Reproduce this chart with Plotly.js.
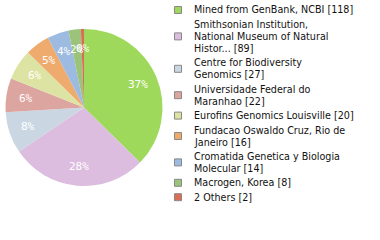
<!DOCTYPE html>
<html>
<head>
<meta charset="utf-8">
<script src="https://cdn.plot.ly/plotly-3.0.1.min.js"></script>
<style>html,body{margin:0;padding:0;background:#fff;}#chart{width:380px;height:240px;}</style>
</head>
<body>
<div id="chart"></div>
<script>
const categories = [
  'Mined from GenBank, NCBI [118]',
  'Smithsonian Institution,<br>National Museum of Natural<br>Histor... [89]',
  'Centre for Biodiversity<br>Genomics [27]',
  'Universidade Federal do<br>Maranhao [22]',
  'Eurofins Genomics Louisville [20]',
  'Fundacao Oswaldo Cruz, Rio de<br>Janeiro [16]',
  'Cromatida Genetica y Biologia<br>Molecular [14]',
  'Macrogen, Korea [8]',
  '2 Others [2]'
];
const values = [118, 89, 27, 22, 20, 16, 14, 8, 2];
const colors = ['#9fd95c', '#dcbde0', '#cad7e3', '#dda59f', '#dde3a2', '#efab6e', '#9dbae0', '#9bc37a', '#dc6c54'];

const W = 380, H = 240;
const px = x => x / W, py = y => 1 - y / H;
const cx = 84, cy = 107.5, R = 78.5;
const total = values.reduce((a, b) => a + b, 0);
const pctText = values.map(v => Math.floor(v / total * 100) + '%');

const annotations = [];
const shapes = [];
let cum = 0;
values.forEach((v, i) => {
  const mid = (cum + v / 2) / total * 2 * Math.PI;
  cum += v;
  const r = 0.75 * R;
  annotations.push({
    x: px(cx + r * Math.sin(mid)), y: py(cy - r * Math.cos(mid)),
    xref: 'paper', yref: 'paper', text: pctText[i], showarrow: false,
    xanchor: 'center', yanchor: 'middle', borderpad: 0,
    font: {family: 'DejaVu Sans Mono', size: 11, color: '#ffffff'}
  });
});

const L = 12, G = 2.4;
let ly = 10;
categories.forEach((lab, i) => {
  const lines = lab.split('<br>');
  const n = lines.length;
  const c = ly + (n - 1) * L / 2;
  shapes.push({type: 'rect', xref: 'paper', yref: 'paper',
    x0: px(174.5), x1: px(181.5), y0: py(c - 3.5), y1: py(c + 3.5),
    fillcolor: colors[i], line: {color: '#888888', width: 1}});
  lines.forEach((t, j) => {
    annotations.push({x: px(193), y: py(ly + j * L), xref: 'paper', yref: 'paper',
      text: t, showarrow: false, xanchor: 'left', yanchor: 'middle', borderpad: 0,
      font: {family: 'DejaVu Sans', size: 9.6, color: '#111111'}});
  });
  ly += n * L + G;
});

const data = [{
  type: 'pie', values: values, labels: categories, sort: false,
  direction: 'clockwise', rotation: 0, textinfo: 'none', hoverinfo: 'none',
  marker: {colors: colors, line: {width: 0}},
  domain: {x: [5 / W, 163 / W], y: [1 - 186 / H, 1 - 29 / H]}
}];
const layout = {
  width: W, height: H, margin: {l: 0, r: 0, t: 0, b: 0},
  paper_bgcolor: '#ffffff', showlegend: false,
  annotations: annotations, shapes: shapes
};
Plotly.newPlot('chart', data, layout, {staticPlot: true, displayModeBar: false});
</script>
</body>
</html>
